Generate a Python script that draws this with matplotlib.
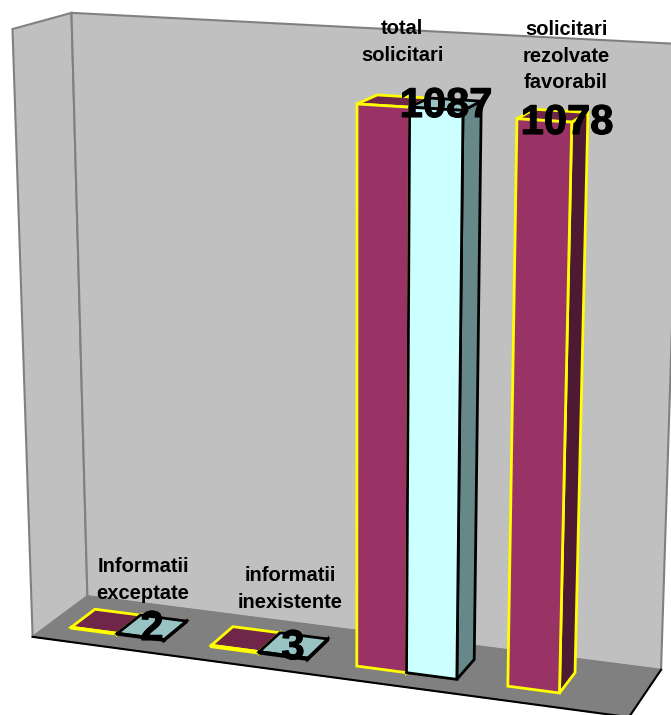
import numpy as np
import matplotlib.pyplot as plt
import matplotlib.patheffects as pe
from matplotlib.patches import Polygon

plt.rcParams['font.family'] = ['Liberation Sans', 'DejaVu Sans']

categories = ["Informatii\nexceptate", "informatii\ninexistente", "total\nsolicitari",
              "solicitari\nrezolvate\nfavorabil"]
series1 = [2, 3, 1087, 1078]
series2 = [2, 3, 1087, 0]
value_labels = ["2", "3", "1087", "1078"]
axis_max = 1200

# box corners (category pos, depth, height) -> where they land in the picture
box_points = np.array([[0, 0, 0], [0, 1, 0], [4, 1, 0], [4, 0, 0], [0, 1, 1], [0, 0, 1], [4, 1, 1]], float)
pixel_points = np.array([[33, 638], [87, 595], [661, 671], [629, 716], [72, 13], [12, 29], [681, 44]], float)

rows, rhs = [], []
for (bx, by, bz), (u, v) in zip(box_points, pixel_points):
    rows.append([bx, by, bz, 1, 0, 0, 0, 0, -u * bx, -u * by, -u * bz])
    rows.append([0, 0, 0, 0, bx, by, bz, 1, -v * bx, -v * by, -v * bz])
    rhs += [u, v]
cam = np.append(np.linalg.lstsq(np.array(rows), np.array(rhs), rcond=None)[0], 1).reshape(3, 4)


def proj(x, d, z):
    p = cam @ np.array([x, d, z, 1.0])
    return p[0] / p[2], p[1] / p[2]


def face(ax, corners, fc, ec, lw=2, zorder=2):
    ax.add_patch(Polygon([proj(*c) for c in corners], closed=True, facecolor=fc,
                         edgecolor=ec, linewidth=lw, joinstyle='miter', zorder=zorder))


def bar(ax, x0, x1, value, front, top, side, edge, zorder):
    h = value / axis_max
    d0, d1 = 0.28, 0.72
    face(ax, [(x1, d0, 0), (x1, d1, 0), (x1, d1, h), (x1, d0, h)], side, edge, zorder=zorder)
    face(ax, [(x0, d0, h), (x1, d0, h), (x1, d1, h), (x0, d1, h)], top, edge, zorder=zorder)
    face(ax, [(x0, d0, 0), (x1, d0, 0), (x1, d0, h), (x0, d0, h)], front, edge, zorder=zorder)


fig = plt.figure(figsize=(6.71, 7.15), dpi=100)
ax = fig.add_axes([0, 0, 1, 1])
ax.set_xlim(0, 671)
ax.set_ylim(715, 0)
ax.axis('off')

# walls and floor
face(ax, [(0, 0, 0), (0, 1, 0), (0, 1, 1), (0, 0, 1)], '#C0C0C0', '#808080', lw=1.5, zorder=1)
face(ax, [(0, 1, 0), (4, 1, 0), (4, 1, 1), (0, 1, 1)], '#C0C0C0', '#808080', lw=1.5, zorder=1)
face(ax, [(0, 0, 0), (4, 0, 0), (4, 1, 0), (0, 1, 0)], '#808080', '#808080', lw=1, zorder=1)
edge = [proj(0, 0, 0), proj(4, 0, 0), proj(4, 1, 0)]
ax.plot([p[0] for p in edge], [p[1] for p in edge], color='black', lw=1.5, zorder=1.5)

bar_w = 1 / 3
for i in range(len(categories)):
    start = i + bar_w / 2
    z = 2 + i
    bar(ax, start, start + bar_w, series1[i], '#993366', '#6F2649', '#4D1933', '#FFFF00', z)
    if series2[i] > 0:
        bar(ax, start + bar_w, start + 2 * bar_w, series2[i], '#CCFFFF', '#99C2C2', '#668888', 'black', z + 0.5)

cat_xy = [(143, 580), (290, 589), (402, 42), (566, 56)]
num_xy = [(152, 629), (293, 648), (446, 106), (567, 123)]
heavy = [pe.withStroke(linewidth=0.8, foreground='black')]
for name, val, c, n in zip(categories, value_labels, cat_xy, num_xy):
    ax.text(c[0], c[1], name, ha='center', va='center', fontsize=14.5, fontweight='bold',
            linespacing=1.5, zorder=20)
    ax.text(n[0], n[1], val, ha='center', va='center', fontsize=30, fontweight='bold',
            path_effects=heavy, zorder=20)

fig.savefig('out.png', dpi=100)
